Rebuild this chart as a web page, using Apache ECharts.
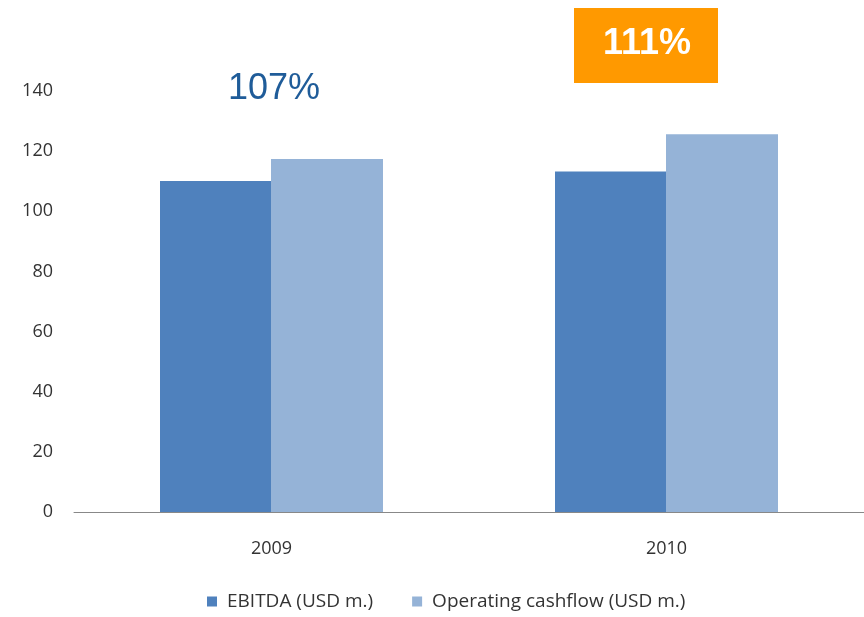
<!DOCTYPE html>
<html>
<head>
<meta charset="utf-8">
<script src="https://cdn.jsdelivr.net/npm/echarts@6/dist/echarts.min.js"></script>
<style>
  html, body { margin: 0; padding: 0; background: #fff; }
  #chart { width: 864px; height: 617px; }
</style>
</head>
<body>
<div id="chart"></div>
<script>
// Years on the category axis
const years = ['2009', '2010'];
// EBITDA and operating cash flow, USD millions
const ebitda = [110.1, 113.2];
const operatingCashflow = [117.4, 125.6];
// Cash conversion labels shown above each year
const conversionLabels = ['107%', '111%'];
const seriesNames = ['EBITDA (USD m.)', 'Operating cashflow (USD m.)'];

const chart = echarts.init(document.getElementById('chart'));
const axisFont = '"Open Sans", "Noto Sans", sans-serif';

chart.setOption({
  animation: false,
  grid: { left: 74, right: 0, top: 91, bottom: 105 },
  legend: {
    top: 592,
    left: 207,
    padding: 0,
    itemWidth: 10,
    itemHeight: 10,
    itemGap: 39,
    icon: 'rect',
    textStyle: { fontFamily: axisFont, fontSize: 19, color: '#333', padding: [0, 0, 0, 5] },
    data: seriesNames
  },
  xAxis: {
    type: 'category',
    data: years,
    axisLine: { show: true, lineStyle: { color: '#888', width: 1 } },
    axisTick: { show: false },
    axisLabel: { margin: 28, fontFamily: axisFont, fontSize: 18, color: '#333' }
  },
  yAxis: {
    type: 'value',
    min: 0,
    max: 140,
    interval: 20,
    axisLine: { show: false },
    axisTick: { show: false },
    splitLine: { show: false },
    axisLabel: { margin: 21, fontFamily: axisFont, fontSize: 18, color: '#333', padding: [6, 0, 0, 0] }
  },
  series: [
    {
      name: seriesNames[0],
      type: 'bar',
      data: ebitda,
      barWidth: 111,
      barGap: '0%',
      itemStyle: { color: '#4F81BD' }
    },
    {
      name: seriesNames[1],
      type: 'bar',
      data: operatingCashflow,
      barWidth: 112,
      barGap: '0%',
      itemStyle: { color: '#95B3D7' }
    }
  ],
  graphic: [
    {
      type: 'text',
      x: 228,
      y: 89,
      style: {
        text: conversionLabels[0],
        fill: '#1F5C99',
        font: '36px "Liberation Sans", Arial, sans-serif',
        textAlign: 'left',
        textVerticalAlign: 'middle'
      }
    },
    {
      type: 'group',
      x: 574,
      y: 8,
      children: [
        {
          type: 'rect',
          shape: { x: 0, y: 0, width: 144, height: 75 },
          style: { fill: '#FF9900' }
        },
        {
          type: 'text',
          x: 73,
          y: 36,
          style: {
            text: conversionLabels[1],
            fill: '#fff',
            font: 'bold 36px "Liberation Sans", Arial, sans-serif',
            textAlign: 'center',
            textVerticalAlign: 'middle'
          }
        }
      ]
    }
  ]
});
</script>
</body>
</html>
